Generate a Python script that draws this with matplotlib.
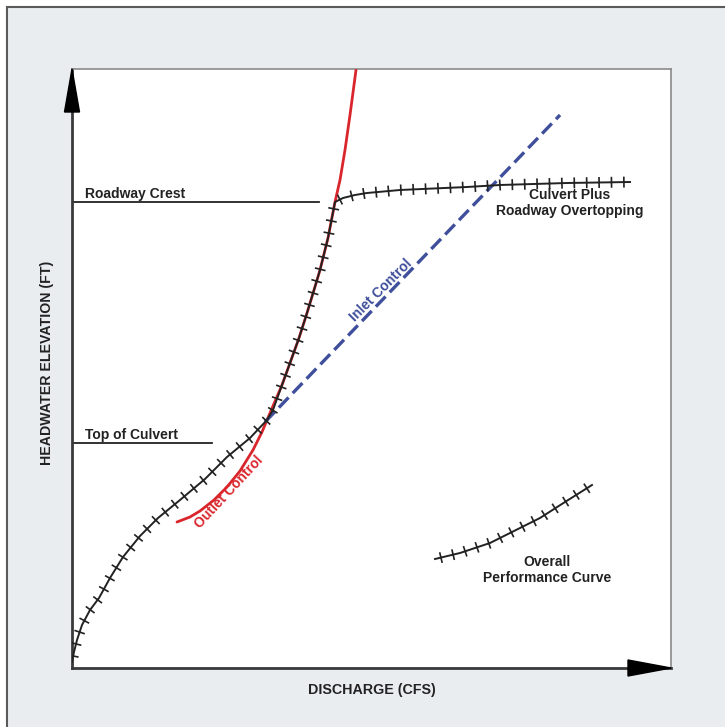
import matplotlib
matplotlib.use("Agg")
import matplotlib.pyplot as plt
import matplotlib.patheffects as pe
from matplotlib.patches import Rectangle, Polygon
import numpy as np

plt.rcParams['font.family'] = ['Liberation Sans', 'DejaVu Sans']

# overall performance curve (discharge, headwater), arbitrary units
perf_q = [0, 2, 5, 10, 18, 27, 38, 51, 68, 86, 108, 133, 155, 178, 195,
          201, 210, 218, 227, 235, 242, 248, 256, 263,
          271, 283, 295, 328, 395, 428, 495, 558]
perf_h = [6, 16, 28, 43, 58, 70, 90, 111, 132, 150, 168, 189, 211, 230, 248,
          258, 283, 305, 330, 355, 378, 398, 430, 466,
          470, 473, 475, 478, 481, 483, 485, 486]

# outlet control curve
outlet_q = [105, 118, 128, 142, 155, 168, 181, 190, 198, 210, 218, 227, 235,
            242, 248, 256, 263, 268, 273, 278, 284]
outlet_h = [146, 151, 157, 168, 181, 197, 218, 236, 255, 283, 305, 330, 355,
            378, 398, 430, 466, 488, 518, 553, 598]

# inlet control line
inlet_q = [193, 488]
inlet_h = [246, 553]

# legend sample of the performance curve
legend_q = [363, 388, 418, 438, 468, 493, 520]
legend_h = [109, 115, 125, 135, 150, 166, 183]

roadway_crest = 466
roadway_crest_end = 247
top_culvert = 225
top_culvert_end = 140

W, H = 725, 727
fig = plt.figure(figsize=(W / 100, H / 100), dpi=100)
fig.patch.set_facecolor("white")
fig.patches.append(Rectangle((7 / W, -0.05), 1.1, 1 - 7 / H + 0.05,
                             transform=fig.transFigure, facecolor="#eaedf0",
                             edgecolor="#5a5a5a", linewidth=1.5, zorder=-10))

ax = fig.add_axes([72 / W, 1 - 668 / H, 599 / W, 599 / H])
ax.set_facecolor("white")
ax.set_xlim(0, 599)
ax.set_ylim(0, 599)
ax.set_xticks([])
ax.set_yticks([])
for s in ["top", "right"]:
    ax.spines[s].set_color("#8a8a8a")
    ax.spines[s].set_linewidth(1.2)
for s in ["left", "bottom"]:
    ax.spines[s].set_color("#3a3a3a")
    ax.spines[s].set_linewidth(2)

# axis arrow heads
ax.add_patch(Polygon([(0, 599), (-7.5, 556), (7.5, 556)], closed=True,
                     color="black", clip_on=False, zorder=6))
ax.add_patch(Polygon([(599, 0), (556, -8), (556, 8)], closed=True,
                     color="black", clip_on=False, zorder=6))

ticks = [pe.Normal(),
         pe.TickedStroke(spacing=8.8, angle=90, length=0.38, linewidth=1.2),
         pe.TickedStroke(spacing=8.8, angle=-90, length=0.38, linewidth=1.2)]

ax.plot(outlet_q, outlet_h, color="#d9262c", lw=2, zorder=3, solid_capstyle="round")
ax.plot(inlet_q, inlet_h, color="#3f4f9b", lw=2.4, dashes=(4.2, 1.8), zorder=3)
ax.plot(perf_q, perf_h, color="#222222", lw=1.4, zorder=4, path_effects=ticks)
ax.plot(legend_q, legend_h, color="#222222", lw=1.4, zorder=4, path_effects=ticks)

ax.plot([0, roadway_crest_end], [roadway_crest] * 2, color="#222222", lw=1.3)
ax.plot([0, top_culvert_end], [top_culvert] * 2, color="#222222", lw=1.3)

fs = 10
lab = dict(fontsize=fs, fontweight="bold", color="#222222")
ax.text(13, roadway_crest + 1, "Roadway Crest", ha="left", va="bottom", **lab)
ax.text(13, top_culvert + 1, "Top of Culvert", ha="left", va="bottom", **lab)
ax.text(498, 473, "Culvert Plus", ha="center", va="center", **lab)
ax.text(498, 457, "Roadway Overtopping", ha="center", va="center", **lab)
ax.text(475, 106, "Overall", ha="center", va="center", **lab)
ax.text(475, 90, "Performance Curve", ha="center", va="center", **lab)
ax.text(309, 378, "Inlet Control", ha="center", va="center", rotation=45,
        fontsize=fs, fontweight="bold", color="#3f4f9b")
ax.text(157, 176, "Outlet Control", ha="center", va="center", rotation=47,
        fontsize=fs, fontweight="bold", color="#d9262c")

fig.text(372 / W, 1 - 690 / H, "DISCHARGE (CFS)", ha="center", va="center",
         fontsize=10.3, fontweight="bold", color="#222222")
fig.text(47 / W, 1 - 363 / H, "HEADWATER ELEVATION (FT)", ha="center",
         va="center", rotation=90, fontsize=10.2, fontweight="bold", color="#222222")

fig.savefig("out.png", dpi=100)
